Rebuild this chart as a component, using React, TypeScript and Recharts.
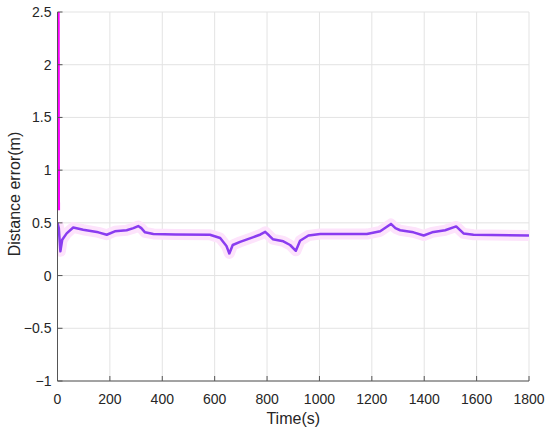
import React from 'react';
import { ComposedChart, Line, XAxis, YAxis, CartesianGrid } from 'recharts';

const xTicks = [0, 200, 400, 600, 800, 1000, 1200, 1400, 1600, 1800];
const yTicks = [-1, -0.5, 0, 0.5, 1, 1.5, 2, 2.5];

const purpleT = [0, 5, 11, 18, 35, 60, 98, 156, 188, 219, 264, 290, 308, 320, 334, 366, 450, 582, 621, 645, 656, 669, 697, 748, 775, 793, 808, 822, 862, 888, 910, 926, 958, 1003, 1181, 1232, 1273, 1290, 1308, 1359, 1398, 1430, 1480, 1522, 1550, 1588, 1800];
const purpleV = [0.5, 0.45, 0.23, 0.34, 0.4, 0.456, 0.435, 0.41, 0.387, 0.42, 0.43, 0.45, 0.47, 0.45, 0.41, 0.395, 0.39, 0.387, 0.356, 0.28, 0.21, 0.29, 0.32, 0.365, 0.39, 0.415, 0.38, 0.345, 0.325, 0.29, 0.235, 0.33, 0.38, 0.394, 0.394, 0.42, 0.49, 0.45, 0.43, 0.41, 0.38, 0.41, 0.43, 0.466, 0.4, 0.387, 0.38];

const magentaT = [2, 4];
const magentaV = [3.5, 0.62];

const purpleData = purpleT.map((t, i) => ({ t, v: purpleV[i] }));
const magentaData = magentaT.map((t, i) => ({ t, v: magentaV[i] }));

const FONT = '"Liberation Sans", Arial, Helvetica, sans-serif';
const BOX = '#555555';
const TXT = '#262626';

const fmtY = (v: number) => (v < 0 ? '\u2212' + Math.abs(v) : String(v));
const blank = () => '';

export default function App() {
  return (
    <div style={{ position: 'fixed', left: 0, top: 0, width: 550, height: 434, background: '#fff' }}>
      <ComposedChart
        width={550}
        height={434}
        margin={{ top: 12, right: 21, bottom: 0, left: 0 }}
        style={{ fontFamily: FONT }}
      >
        <CartesianGrid stroke="#e3e3e3" strokeWidth={1} verticalValues={xTicks} horizontalValues={yTicks} />
        <XAxis
          dataKey="t"
          type="number"
          domain={[0, 1800]}
          ticks={xTicks}
          allowDataOverflow
          height={53}
          stroke={BOX}
          tickSize={-5}
          tickMargin={18}
          tick={{ fill: TXT, fontSize: 14, fontFamily: FONT }}
          axisLine={{ stroke: BOX }}
          tickLine={{ stroke: BOX }}
          interval={0}
          label={(p: any) => (
            <text x={p.viewBox.x + p.viewBox.width / 2} y={424} textAnchor="middle" fill={TXT} fontSize={16} fontFamily={FONT}>
              Time(s)
            </text>
          )}
        />
        <XAxis
          xAxisId="top"
          orientation="top"
          type="number"
          domain={[0, 1800]}
          ticks={xTicks}
          height={0}
          stroke={BOX}
          tickSize={-5}
          tickFormatter={blank}
          axisLine={{ stroke: BOX }}
          tickLine={{ stroke: BOX }}
          interval={0}
        />
        <YAxis
          type="number"
          domain={[-1, 2.5]}
          ticks={yTicks}
          allowDataOverflow
          width={57.5}
          stroke={BOX}
          tickSize={-5}
          tickMargin={11}
          tickFormatter={fmtY}
          tick={{ fill: TXT, fontSize: 14, fontFamily: FONT }}
          axisLine={{ stroke: BOX }}
          tickLine={{ stroke: BOX }}
          interval={0}
          label={(p: any) => {
            const cy = 194;
            return (
              <text x={19.5} y={cy} textAnchor="middle" fill={TXT} fontSize={16} fontFamily={FONT} transform={`rotate(-90, 19.5, ${cy})`}>
                Distance error(m)
              </text>
            );
          }}
        />
        <YAxis
          yAxisId="right"
          orientation="right"
          type="number"
          domain={[-1, 2.5]}
          ticks={yTicks}
          width={0}
          stroke={BOX}
          tickSize={-5}
          tickFormatter={blank}
          axisLine={{ stroke: BOX }}
          tickLine={{ stroke: BOX }}
          interval={0}
        />
        <Line
          data={purpleData}
          dataKey="v"
          type="linear"
          stroke="#fde3fb"
          strokeWidth={11}
          strokeLinejoin="round"
          dot={false}
          activeDot={false}
          isAnimationActive={false}
        />
        <Line
          data={magentaData}
          dataKey="v"
          type="linear"
          stroke="#ff00ff"
          strokeWidth={3}
          dot={false}
          activeDot={false}
          isAnimationActive={false}
        />
        <Line
          data={purpleData}
          dataKey="v"
          type="linear"
          stroke="#8a3cf0"
          strokeWidth={2.5}
          strokeLinejoin="round"
          dot={false}
          activeDot={false}
          isAnimationActive={false}
        />
      </ComposedChart>
    </div>
  );
}
